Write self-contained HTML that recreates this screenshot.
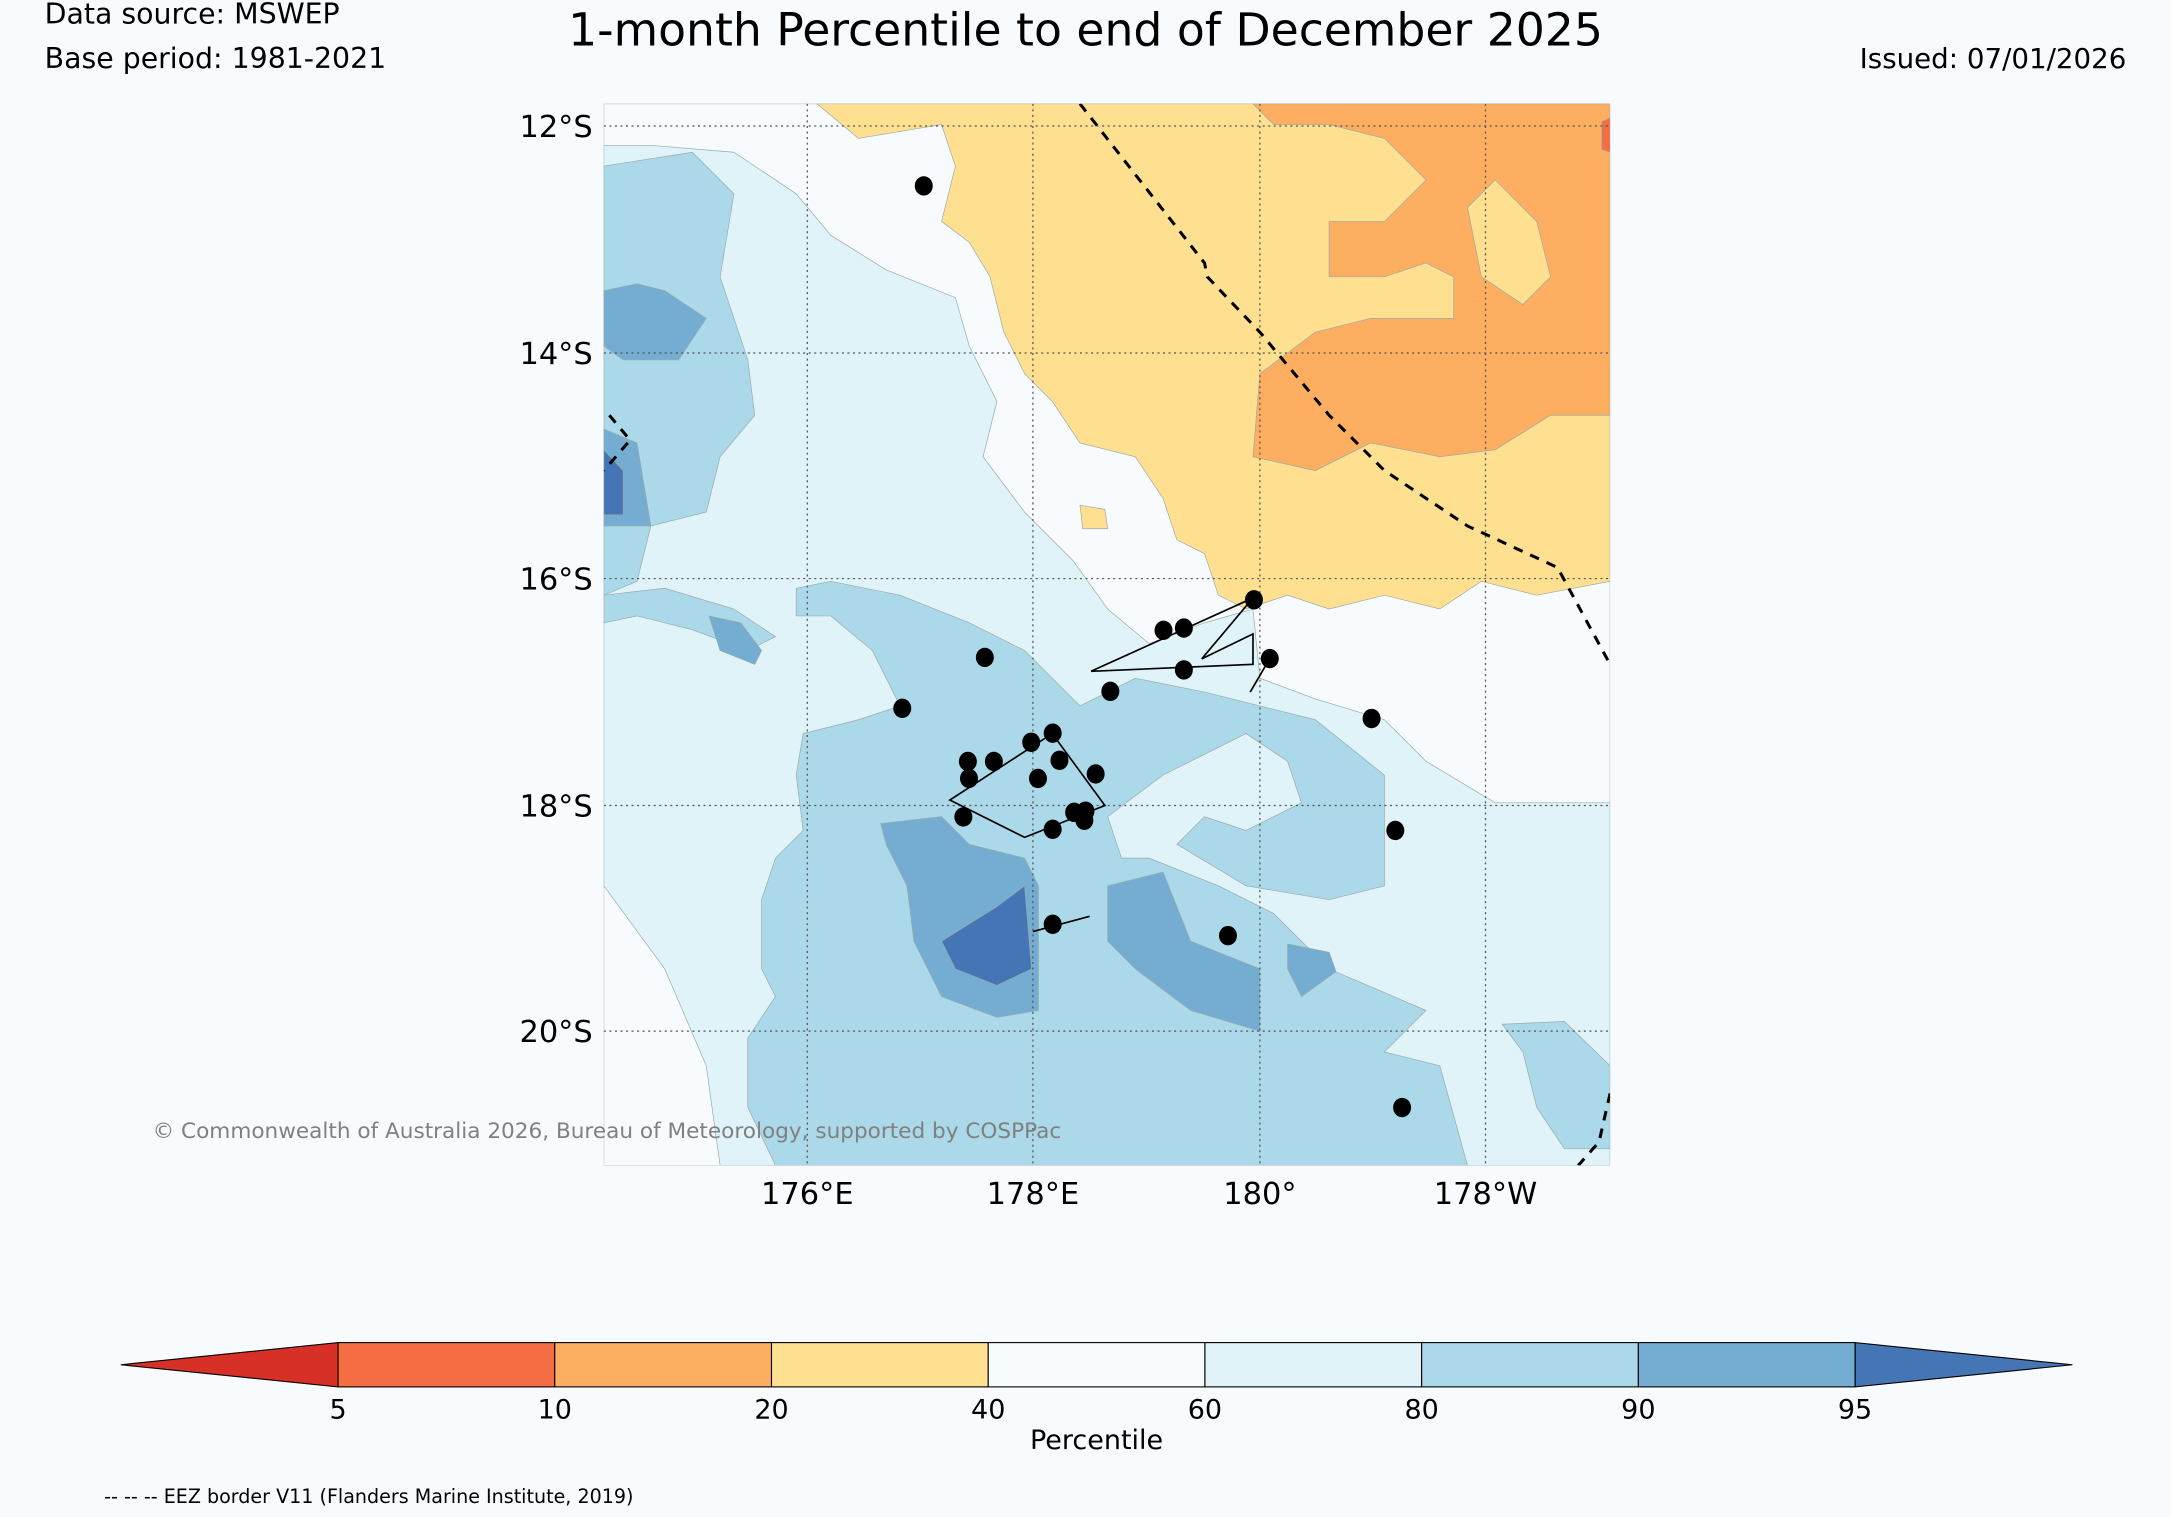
<!DOCTYPE html>
<html><head><meta charset="utf-8"><style>
html,body{margin:0;padding:0;background:#f8fbfd;}
svg{display:block;font-family:"DejaVu Sans","Liberation Sans",sans-serif;}
</style></head><body>
<svg id="chart" width="2171" height="1517" viewBox="0 0 1568 1096" xmlns="http://www.w3.org/2000/svg">
<rect width="1568" height="1096" fill="#f8fbfd"/>
<text x="32" y="17" font-size="20.5">Data source: MSWEP</text>
<text x="32" y="49" font-size="20.5">Base period: 1981-2021</text>
<text x="784" y="33" font-size="33" text-anchor="middle">1-month Percentile to end of December 2025</text>
<text x="1536" y="49" font-size="20" text-anchor="end">Issued: 07/01/2026</text>
<defs><clipPath id="mc"><rect x="436" y="75" width="727" height="767"/></clipPath></defs>
<g clip-path="url(#mc)" stroke="#9aa" stroke-width="0.5">
<rect x="436" y="75" width="727" height="767" fill="#f8fbfd"/>
<polygon fill="#e0f3f8" points="436,105 470,105 530,110 575,140 600,170 640,195 690,215 700,250 720,290 710,330 740,370 775,405 800,440 830,465 870,450 905,440 910,490 950,505 1000,520 1030,550 1080,580 1163,580 1163,842 520,842 510,770 480,700 436,640"/>
<polygon fill="#abd9e9" points="436,120 500,110 530,140 520,200 540,260 545,300 520,330 510,370 470,380 460,420 436,430"/>
<polygon fill="#abd9e9" points="575,445 600,445 630,470 650,510 620,520 580,530 575,560 580,600 560,620 550,650 550,700 560,720 540,750 540,800 560,842 1060,842 1040,770 1000,760 1030,730 960,700 920,660 880,640 830,620 810,620 800,590 840,560 880,540 900,530 930,550 940,580 900,600 870,590 850,610 900,640 960,650 1000,640 1000,560 950,520 870,500 820,490 780,510 760,490 740,470 700,450 650,430 600,420 575,425"/>
<polygon fill="#abd9e9" points="436,430 480,425 530,440 560,460 540,470 500,455 460,445 436,450"/>
<polygon fill="#abd9e9" points="1085,740 1130,738 1163,770 1163,830 1130,830 1110,800 1100,760"/>
<polygon fill="#74add1" points="636,595 680,590 700,610 740,620 750,640 750,730 720,735 680,720 660,680 655,640 640,610"/>
<polygon fill="#74add1" points="800,640 840,630 860,680 910,700 910,745 860,730 820,700 800,680"/>
<polygon fill="#74add1" points="436,210 460,205 480,210 510,230 490,260 450,260 436,250"/>
<polygon fill="#74add1" points="436,310 460,320 470,380 436,380"/>
<polygon fill="#74add1" points="930,682 960,688 965,702 940,720 930,700"/>
<polygon fill="#74add1" points="512,445 535,450 550,470 545,480 520,470"/>
<polygon fill="#4575b4" points="680,680 720,655 740,640 745,700 720,712 690,700"/>
<polygon fill="#4575b4" points="436,325 450,340 450,372 436,372"/>
<polygon fill="#fee090" points="590,75 1163,75 1163,420 1110,430 1070,420 1040,440 1000,430 960,440 930,430 900,440 880,430 870,400 850,390 840,360 820,330 780,320 760,290 740,270 725,240 715,200 700,175 680,160 690,120 680,90 620,100"/>
<polygon fill="#fee090" points="780,365 798,368 800,382 782,382"/>
<polygon fill="#fdae61" points="905,75 1163,75 1163,300 1120,300 1080,325 1040,330 990,320 950,340 905,330 910,270 950,240 990,230 1050,230 1050,200 1030,190 1000,200 960,200 960,160 1000,160 1030,130 1000,100 960,90 920,90"/>
<polygon fill="#fee090" points="1080,130 1110,160 1120,200 1100,220 1070,200 1060,150"/>
<polygon fill="#f46d43" points="1157,88 1163,85 1163,110 1157,108"/>
<g stroke="#555" stroke-width="0.9" stroke-dasharray="1.5,2.5">
<line x1="583" y1="75" x2="583" y2="842"/><line x1="746" y1="75" x2="746" y2="842"/><line x1="910" y1="75" x2="910" y2="842"/><line x1="1073" y1="75" x2="1073" y2="842"/>
<line x1="436" y1="91" x2="1163" y2="91"/><line x1="436" y1="255" x2="1163" y2="255"/><line x1="436" y1="418" x2="1163" y2="418"/><line x1="436" y1="582" x2="1163" y2="582"/><line x1="436" y1="745" x2="1163" y2="745"/>
</g>
<g fill="none" stroke="#000" stroke-width="1.2">
<polyline points="788,485 905,432 868,476 905,458 905,480 788,485"/>
<line x1="917" y1="476" x2="903" y2="500"/>
<polygon points="686,578 740,605 798,582 760,530"/>
<line x1="746" y1="673" x2="787" y2="662"/>
</g>
<g fill="none" stroke="#000" stroke-width="2.2" stroke-dasharray="7,6">
<polyline points="780,75 870,190 872,200 910,240 960,300 1000,340 1060,380 1125,410 1163,480"/>
<polyline points="1163,790 1155,825 1140,842"/>
<polyline points="440,300 455,318 436,340"/>
</g>
<g id="stations"></g>
</g>
<text x="110" y="822" font-size="15.6" fill="#808080">© Commonwealth of Australia 2026, Bureau of Meteorology, supported by COSPPac</text>
<g font-size="22">
<text x="428" y="99" text-anchor="end">12°S</text><text x="428" y="263" text-anchor="end">14°S</text><text x="428" y="426" text-anchor="end">16°S</text><text x="428" y="590" text-anchor="end">18°S</text><text x="428" y="753" text-anchor="end">20°S</text>
</g>
<g font-size="22" text-anchor="middle">
<text x="583" y="870">176°E</text><text x="746" y="870">178°E</text><text x="910" y="870">180°</text><text x="1073" y="870">178°W</text>
</g>
<g id="colorbar"></g>
<text x="792" y="1047" font-size="19.5" text-anchor="middle">Percentile</text>
<text x="75" y="1086" font-size="13.8">-- -- -- EEZ border V11 (Flanders Marine Institute, 2019)</text>
</svg>
<script>
const stationLon = [177.03,177.57,176.84,179.15,179.33,179.95,180.09,179.33,178.68,180.99,178.17,177.98,178.23,177.42,177.65,178.55,177.43,178.04,177.38,178.36,178.46,178.17,178.45,181.2,178.17,179.72,181.26];
const stationLat = [-12.53,-16.70,-17.15,-16.46,-16.44,-16.19,-16.71,-16.81,-17.0,-17.24,-17.37,-17.45,-17.61,-17.62,-17.62,-17.73,-17.77,-17.77,-18.11,-18.07,-18.06,-18.22,-18.14,-18.23,-19.06,-19.16,-20.68];
const levels = [5,10,20,40,60,80,90,95];
const levelColors = ["#f46d43","#fdae61","#fee090","#f8fbfd","#e0f3f8","#abd9e9","#74add1"];
const ns="http://www.w3.org/2000/svg";
function xLon(lon){return 583+(lon-176)*81.7;}
function yLat(lat){return 91+(-lat-12)*81.7;}
const st=document.getElementById('stations');
stationLon.forEach((lo,i)=>{
 const c=document.createElementNS(ns,'ellipse');
 c.setAttribute('cx',xLon(lo));c.setAttribute('cy',yLat(stationLat[i]));
 c.setAttribute('rx',6.5);c.setAttribute('ry',7);c.setAttribute('fill','#000');c.setAttribute('stroke','none');
 
 
 st.appendChild(c);
});
const cb=document.getElementById('colorbar');
const x0=244,x1=1340,y0=970,h=32,segW=(x1-x0)/levelColors.length;
function cbX(i){return x0+i*segW;}
const lt=document.createElementNS(ns,'polygon');
lt.setAttribute('points',`87,${y0+h/2} ${x0},${y0} ${x0},${y0+h}`);lt.setAttribute('fill','#d73027');lt.setAttribute('stroke','#000');lt.setAttribute('stroke-width','0.8');


cb.appendChild(lt);
const rt=document.createElementNS(ns,'polygon');
rt.setAttribute('points',`1497,${y0+h/2} ${x1},${y0} ${x1},${y0+h}`);rt.setAttribute('fill','#4575b4');rt.setAttribute('stroke','#000');rt.setAttribute('stroke-width','0.8');


cb.appendChild(rt);
levelColors.forEach((col,i)=>{
 const r=document.createElementNS(ns,'rect');
 r.setAttribute('x',cbX(i));r.setAttribute('y',y0);r.setAttribute('width',segW);r.setAttribute('height',h);
 r.setAttribute('fill',col);r.setAttribute('stroke','#000');r.setAttribute('stroke-width','0.8');
 
 
 cb.appendChild(r);
});
levels.forEach((v,i)=>{
 const t=document.createElementNS(ns,'text');
 t.setAttribute('x',cbX(i));t.setAttribute('y',1025);t.setAttribute('font-size','19.5');t.setAttribute('text-anchor','middle');
 t.textContent=v;
 
 
 cb.appendChild(t);
});
</script>
</body></html>
